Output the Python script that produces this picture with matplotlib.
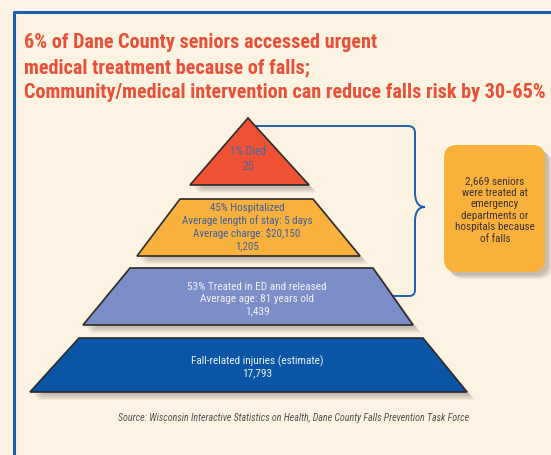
import matplotlib
matplotlib.use("Agg")
import matplotlib.pyplot as plt
from matplotlib import font_manager
from matplotlib.patches import Polygon, FancyBboxPatch, PathPatch
from matplotlib.path import Path

# data
title_lines = ["6% of Dane County seniors accessed urgent",
               "medical treatment because of falls;",
               "Community/medical intervention can reduce falls risk by 30-65%"]
level_names = ["1% Died",
               "45% Hospitalized\nAverage length of stay: 5 days\nAverage charge: $20,150",
               "53% Treated in ED and released\nAverage age: 81 years old",
               "Fall-related injuries (estimate)"]
level_counts = ["25", "1,205", "1,439", "17,793"]
callout = "2,669 seniors\nwere treated at\nemergency\ndepartments or\nhospitals because\nof falls"
source = "Source: Wisconsin Interactive Statistics on Health, Dane County Falls Prevention Task Force"

level_colors = ["#ee5134", "#f9b13e", "#7b8ec8", "#0a55a5"]
text_colors = ["#4565a8", "#3d5f9c", "#f3f1f5", "#eef0f6"]

# shape outlines (pixel layout)
shapes = [
    [(248, 118), (309, 185), (190, 185)],
    [(180, 199), (313, 199), (360, 256), (137, 256)],
    [(130, 268), (373, 268), (413, 325), (83, 325)],
    [(79, 338), (423, 338), (467, 392), (30, 392)],
]
text_y = [159, 227, 299, 367]
text_x = [248, 247, 257, 257]
text_w = [37, 131, 140, 134]

PREFS = ["liberation sans narrow", "roboto condensed", "open sans condensed",
         "noto sans condensed", "dejavu sans condensed"]


def narrow_font(weight="normal", italic=False):
    # look for an installed condensed sans face, otherwise plain DejaVu Sans
    found = {}
    for f in font_manager.fontManager.ttflist:
        n = f.name.lower()
        fn = f.fname.lower()
        if "serif" in n or "mono" in n or "serif" in fn or "mono" in fn:
            continue
        if not ("narrow" in n or "condensed" in n or "condensed" in fn or "narrow" in fn):
            continue
        if italic != (f.style in ("italic", "oblique")):
            continue
        w = f.weight if isinstance(f.weight, int) else (700 if f.weight in ("bold", "semibold", "demibold") else 400)
        if (weight == "bold") != (w >= 600):
            continue
        key = n
        for p in PREFS:
            if p in n or p.replace(" ", "") in fn.replace("-", "").replace("_", ""):
                key = p
        found.setdefault(key, f.fname)
    for p in PREFS:
        if p in found:
            return font_manager.FontProperties(fname=found[p])
    if found:
        return font_manager.FontProperties(fname=list(found.values())[0])
    return font_manager.FontProperties(family="DejaVu Sans", weight=weight,
                                       style="italic" if italic else "normal")


BG = "#fdf3e3"
fig = plt.figure(figsize=(5.51, 4.55), dpi=100)
fig.patch.set_facecolor(BG)
ax = fig.add_axes([0, 0, 1, 1])
ax.set_xlim(0, 551)
ax.set_ylim(455, 0)
ax.axis("off")
renderer = fig.canvas.get_renderer()


def fit_text(t, width, cap):
    # shrink font so the text block spans about `width` pixels
    w = t.get_window_extent(renderer).width
    size = t.get_fontsize() * width / w
    t.set_fontsize(min(size, cap))


fp_bold = narrow_font("bold")
fp_reg = narrow_font()
fp_ital = narrow_font(italic=True)

# frame
ax.plot([14, 14, 560], [460, 12, 12], color="#1f5dab", lw=2.2, solid_capstyle="butt")

titles = []
for i, line in enumerate(title_lines):
    titles.append(ax.text(24, 42 + i * 25.5, line, color="#ea4f37", fontproperties=fp_bold,
                          fontsize=15, va="center", ha="left"))
fit_text(titles[2], 522, 15.5)
for t in titles[:2]:
    t.set_fontsize(titles[2].get_fontsize())

# pyramid with soft shadows
for pts, col in zip(shapes, level_colors):
    for k in range(6):
        sh = [(x + 3 + k, y + 3 + k) for x, y in pts]
        ax.add_patch(Polygon(sh, closed=True, facecolor="#3a3030", edgecolor="none",
                             alpha=0.05, zorder=1))
    ax.add_patch(Polygon(pts, closed=True, facecolor=col, edgecolor="#2e2a2a",
                         lw=1.2, zorder=2))

for i in range(len(level_names)):
    t = ax.text(text_x[i], text_y[i], level_names[i] + "\n" + level_counts[i],
                color=text_colors[i], fontproperties=fp_reg, fontsize=8,
                ha="center", va="center", linespacing=1.22, zorder=3)
    fit_text(t, text_w[i], 8.4)

# brace
verts = [(250, 126), (408, 126), (415, 126), (415, 133), (415, 192),
         (415, 203), (419, 207), (425, 207), (419, 207), (415, 211), (415, 222),
         (415, 290), (415, 296), (409, 296), (392, 296)]
codes = [Path.MOVETO, Path.LINETO, Path.CURVE3, Path.CURVE3, Path.LINETO,
         Path.CURVE4, Path.CURVE4, Path.CURVE4, Path.CURVE4, Path.CURVE4, Path.CURVE4,
         Path.LINETO, Path.CURVE3, Path.CURVE3, Path.LINETO]
ax.add_patch(PathPatch(Path(verts, codes), facecolor="none", edgecolor="#1f5fb0",
                       lw=1.4, zorder=1.5))

# callout box
for k in range(6):
    ax.add_patch(FancyBboxPatch((444 + 3 + k * 0.8, 145 + 3 + k * 0.8), 101, 127,
                                boxstyle="round,pad=0,rounding_size=13",
                                facecolor="#3a3030", edgecolor="none", alpha=0.05, zorder=1))
ax.add_patch(FancyBboxPatch((444, 145), 101, 127, boxstyle="round,pad=0,rounding_size=13",
                            facecolor="#f9b13c", edgecolor="none", zorder=2))
t = ax.text(495, 210, callout, color="#3a3430", fontproperties=fp_reg, fontsize=8.5,
            ha="center", va="center", linespacing=1.2, zorder=3)
fit_text(t, 79, 8.8)

t = ax.text(294, 418, source, color="#555050", fontproperties=fp_ital, fontsize=7,
            ha="center", va="center")
fit_text(t, 351, 7.2)

fig.savefig("out.png", dpi=100, facecolor=BG)
